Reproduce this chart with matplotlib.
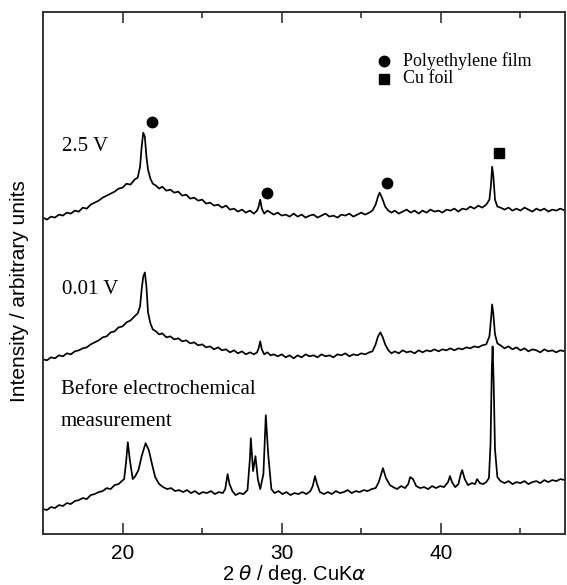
"""XRD patterns: before cycling, 0.01 V and 2.5 V"""
import matplotlib
matplotlib.use('Agg')
import matplotlib.pyplot as plt
from matplotlib.ticker import MultipleLocator

# ============================================================================
# DATA ((2theta, intensity) pairs, arbitrary units)
# ============================================================================
# --- 2.5 V ---
pts_25 = [
    (15.0, 317), (15.25, 315), (15.5, 318), (15.75, 317), (16.0, 320), (16.25, 319),
    (16.5, 322), (16.75, 321), (17.0, 324), (17.25, 323), (17.5, 327), (17.75, 326),
    (18.0, 330), (18.25, 332), (18.5, 334), (18.75, 337), (19.0, 339), (19.25, 341),
    (19.5, 343), (19.75, 346), (20.0, 347), (20.25, 351), (20.5, 350), (20.75, 355),
    (20.95, 357), (21.1, 368), (21.2, 388), (21.3, 402), (21.4, 398), (21.5, 378),
    (21.6, 365), (21.75, 356), (21.9, 351), (22.1, 349), (22.3, 346), (22.5, 348),
    (22.75, 344), (23.0, 345), (23.25, 342), (23.5, 343), (23.75, 339), (24.0, 340),
    (24.25, 336), (24.5, 337), (24.75, 334), (25.0, 335), (25.25, 331), (25.5, 332),
    (25.75, 329), (26.0, 330), (26.25, 327), (26.5, 329), (26.75, 325), (27.0, 326),
    (27.25, 323), (27.5, 325), (27.75, 322), (28.0, 324), (28.25, 321), (28.45, 324),
    (28.55, 328), (28.65, 335), (28.75, 326), (28.9, 321), (29.1, 324), (29.3, 322),
    (29.5, 320), (29.75, 322), (30.0, 319), (30.25, 320), (30.5, 318), (30.75, 321),
    (31.0, 318), (31.25, 320), (31.5, 317), (31.75, 319), (32.0, 320), (32.25, 317),
    (32.5, 319), (32.75, 321), (33.0, 318), (33.25, 319), (33.5, 317), (33.75, 320),
    (34.0, 319), (34.25, 321), (34.5, 318), (34.75, 320), (35.0, 322), (35.25, 320),
    (35.5, 322), (35.7, 324), (35.9, 330), (36.05, 338), (36.15, 342), (36.3, 337),
    (36.5, 328), (36.7, 324), (36.9, 322), (37.1, 324), (37.35, 321), (37.6, 323),
    (37.85, 325), (38.1, 322), (38.35, 324), (38.6, 321), (38.85, 324), (39.1, 322),
    (39.35, 325), (39.6, 323), (39.85, 324), (40.1, 322), (40.35, 325), (40.6, 324),
    (40.85, 326), (41.1, 323), (41.35, 326), (41.6, 325), (41.85, 328), (42.1, 326),
    (42.35, 329), (42.6, 327), (42.85, 330), (43.05, 335), (43.15, 350), (43.22, 368),
    (43.3, 358), (43.4, 335), (43.55, 328), (43.75, 327), (44.0, 325), (44.25, 327),
    (44.5, 324), (44.75, 326), (45.0, 324), (45.25, 327), (45.5, 325), (45.75, 323),
    (46.0, 326), (46.25, 324), (46.5, 326), (46.75, 323), (47.0, 325), (47.25, 324),
    (47.5, 326), (47.8, 324),
]

# --- 0.01 V ---
pts_001 = [
    (15.0, 175), (15.25, 174), (15.5, 177), (15.75, 176), (16.0, 179), (16.25, 178),
    (16.5, 181), (16.75, 180), (17.0, 183), (17.25, 184), (17.5, 186), (17.75, 187),
    (18.0, 190), (18.25, 192), (18.5, 194), (18.75, 197), (19.0, 198), (19.25, 202),
    (19.5, 203), (19.75, 207), (20.0, 208), (20.25, 212), (20.5, 214), (20.75, 218),
    (20.95, 221), (21.1, 228), (21.2, 245), (21.3, 258), (21.4, 262), (21.5, 248),
    (21.6, 222), (21.75, 211), (21.9, 205), (22.1, 203), (22.3, 200), (22.5, 201),
    (22.75, 197), (23.0, 198), (23.25, 195), (23.5, 196), (23.75, 193), (24.0, 194),
    (24.25, 191), (24.5, 192), (24.75, 189), (25.0, 190), (25.25, 187), (25.5, 188),
    (25.75, 185), (26.0, 187), (26.25, 184), (26.5, 185), (26.75, 182), (27.0, 184),
    (27.25, 181), (27.5, 183), (27.75, 180), (28.0, 182), (28.25, 180), (28.45, 182),
    (28.55, 186), (28.65, 193), (28.75, 185), (28.9, 180), (29.1, 182), (29.3, 179),
    (29.5, 180), (29.75, 178), (30.0, 180), (30.25, 177), (30.5, 179), (30.75, 176),
    (31.0, 179), (31.25, 177), (31.5, 180), (31.75, 178), (32.0, 179), (32.25, 177),
    (32.5, 180), (32.75, 178), (33.0, 179), (33.25, 177), (33.5, 180), (33.75, 179),
    (34.0, 181), (34.25, 178), (34.5, 180), (34.75, 179), (35.0, 181), (35.25, 180),
    (35.5, 182), (35.7, 183), (35.9, 190), (36.05, 198), (36.2, 202), (36.35, 197),
    (36.5, 190), (36.7, 184), (36.9, 181), (37.1, 183), (37.35, 181), (37.6, 184),
    (37.85, 182), (38.1, 183), (38.35, 181), (38.6, 184), (38.85, 182), (39.1, 184),
    (39.35, 183), (39.6, 185), (39.85, 183), (40.1, 185), (40.35, 184), (40.6, 186),
    (40.85, 184), (41.1, 186), (41.35, 185), (41.6, 187), (41.85, 186), (42.1, 188),
    (42.35, 187), (42.6, 189), (42.85, 190), (43.05, 198), (43.15, 215), (43.22, 230),
    (43.3, 220), (43.4, 200), (43.55, 191), (43.75, 189), (44.0, 186), (44.25, 188),
    (44.5, 185), (44.75, 187), (45.0, 184), (45.25, 186), (45.5, 183), (45.75, 185),
    (46.0, 184), (46.25, 182), (46.5, 185), (46.75, 183), (47.0, 184), (47.25, 182),
    (47.5, 184), (47.8, 183),
]

# --- Before electrochemical measurement ---
pts_before = [
    (15.0, 25), (15.25, 24), (15.5, 27), (15.75, 26), (16.0, 29), (16.25, 28),
    (16.5, 31), (16.75, 30), (17.0, 33), (17.25, 34), (17.5, 36), (17.75, 35),
    (18.0, 39), (18.25, 40), (18.5, 42), (18.75, 43), (19.0, 46), (19.25, 45),
    (19.5, 49), (19.75, 50), (19.95, 53), (20.1, 55), (20.22, 72), (20.33, 92),
    (20.45, 75), (20.64, 55), (20.8, 58), (21.0, 64), (21.2, 78), (21.45, 91),
    (21.65, 84), (21.85, 70), (22.05, 57), (22.3, 50), (22.55, 47), (22.8, 45),
    (23.05, 46), (23.3, 43), (23.55, 44), (23.8, 42), (24.05, 44), (24.3, 41),
    (24.55, 43), (24.8, 40), (25.05, 42), (25.3, 41), (25.55, 43), (25.8, 40),
    (26.05, 42), (26.3, 41), (26.45, 45), (26.6, 60), (26.72, 50), (26.9, 43),
    (27.1, 39), (27.35, 41), (27.6, 40), (27.85, 44), (28.0, 75), (28.06, 96),
    (28.2, 63), (28.35, 78), (28.5, 55), (28.65, 45), (28.85, 60), (29.0, 119),
    (29.15, 80), (29.35, 45), (29.55, 41), (29.8, 43), (30.05, 40), (30.3, 42),
    (30.55, 39), (30.8, 41), (31.05, 40), (31.3, 42), (31.55, 40), (31.8, 43),
    (31.95, 48), (32.09, 58), (32.22, 50), (32.4, 42), (32.65, 40), (32.9, 42),
    (33.15, 40), (33.4, 43), (33.65, 41), (33.9, 42), (34.15, 44), (34.4, 41),
    (34.65, 43), (34.9, 42), (35.15, 44), (35.4, 43), (35.65, 45), (35.9, 46),
    (36.1, 52), (36.25, 60), (36.36, 66), (36.55, 56), (36.8, 49), (37.0, 47),
    (37.25, 45), (37.5, 48), (37.75, 46), (37.95, 50), (38.07, 57), (38.25, 55),
    (38.45, 48), (38.7, 46), (38.95, 47), (39.2, 45), (39.45, 48), (39.7, 46),
    (39.95, 48), (40.2, 47), (40.45, 52), (40.57, 58), (40.7, 52), (40.9, 47),
    (41.1, 50), (41.25, 60), (41.34, 64), (41.5, 55), (41.7, 49), (41.95, 51),
    (42.15, 50), (42.28, 55), (42.45, 51), (42.65, 50), (42.85, 52), (43.02, 56),
    (43.12, 90), (43.2, 165), (43.25, 188), (43.32, 150), (43.4, 85), (43.55, 57),
    (43.75, 53), (44.0, 51), (44.25, 53), (44.5, 50), (44.75, 52), (45.0, 51),
    (45.25, 53), (45.5, 50), (45.75, 52), (46.0, 53), (46.25, 51), (46.5, 54),
    (46.75, 52), (47.0, 54), (47.25, 53), (47.5, 55), (47.8, 54),
]

# peak assignments
pe_tth = [21.86, 29.06, 36.64]
pe_int = [413, 342, 352]
cu_tth = [43.68]
cu_int = [382]

# trace labels: (x, y, text)
trace_labels = [
    (16.2, 388, '2.5 V'),
    (16.2, 245, '0.01 V'),
    (16.12, 145, 'Before electrochemical'),
    (16.12, 113, 'measurement'),
]

# ============================================================================
# PLOTTING
# ============================================================================
plt.rcParams['mathtext.fontset'] = 'dejavusans'
serif = 'Liberation Serif'
sans = 'Liberation Sans'

fig = plt.figure(figsize=(5.67, 5.85), dpi=100)
ax = fig.add_axes([0.0758, 0.0872, 0.9207, 0.8923])

for pts in [pts_25, pts_001, pts_before]:
    tth, inten = zip(*pts)
    ax.plot(tth, inten, color='black', linewidth=1.25)

# peak markers
ax.plot(pe_tth, pe_int, 'o', color='black', markersize=7.5, linestyle='none')
ax.plot(cu_tth, cu_int, 's', color='black', markersize=6.5, linestyle='none')

# manual key
ax.plot([36.45], [474], 'o', color='black', markersize=7.5)
ax.plot([36.45], [456], 's', color='black', markersize=6.5)
ax.text(37.6, 474, 'Polyethylene film', family=serif, fontsize=13, va='center', ha='left')
ax.text(37.6, 456, 'Cu foil', family=serif, fontsize=13, va='center', ha='left')

for x, y, s in trace_labels:
    ax.text(x, y, s, family=serif, fontsize=15, va='center', ha='left')

# ============================================================================
# FORMATTING
# ============================================================================
ax.set_xlim(15, 47.8)
ax.set_ylim(0, 523)
ax.xaxis.set_major_locator(MultipleLocator(10))
ax.xaxis.set_minor_locator(MultipleLocator(5))
ax.set_yticks([])
ax.tick_params(axis='x', which='both', direction='in', top=True, labeltop=False,
               width=1.2, color='#333333', pad=7, labelsize=15)
ax.tick_params(axis='x', which='major', length=8)
ax.tick_params(axis='x', which='minor', length=4.5)
for lab in ax.get_xticklabels():
    lab.set_family(sans)
for sp in ax.spines.values():
    sp.set_linewidth(1.4)
    sp.set_color('#333333')

fig.text(294 / 567, 1 - 575 / 585, r'2 $\theta$ / deg. CuK$\alpha$',
         family=sans, fontsize=14.5, ha='center', va='center')
fig.text(20 / 567, 1 - 291 / 585, 'Intensity / arbitrary units',
         family=sans, fontsize=15, ha='center', va='center', rotation=90)

fig.savefig('out.png', dpi=100)
